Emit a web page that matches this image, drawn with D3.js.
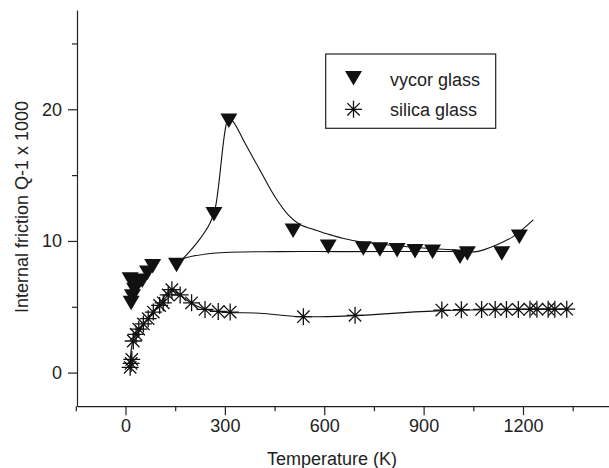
<!DOCTYPE html>
<html lang="en">
<head>
<meta charset="UTF-8">
<title>Internal friction vs temperature</title>
<script src="https://cdnjs.cloudflare.com/ajax/libs/d3/7.8.5/d3.min.js"></script>
<style>
  body { margin: 0; background: #fff; }
  svg text { font-family: "Liberation Sans", Arial, sans-serif; fill: #222; }
</style>
</head>
<body>
<svg width="609" height="468"></svg>
<script>
// measured points
const vycorT = [14, 17, 21, 27.5, 35, 50.7, 66.4, 82, 154, 267, 312, 506, 612, 718, 768, 820, 874, 927, 1010, 1032, 1136, 1189]
const vycorQ = [7.1, 5.3, 5.8, 6.3, 6.8, 7.0, 7.6, 8.1, 8.2, 12.05, 19.15, 10.8, 9.57, 9.44, 9.37, 9.32, 9.24, 9.19, 8.81, 9.07, 9.07, 10.33]

const silicaT = [14, 17, 19, 23.5, 32, 40, 54, 68.5, 84, 103, 114, 129, 140, 165, 199.5, 240, 280, 316, 537, 693, 955, 1014, 1075, 1116, 1150, 1186, 1221, 1242, 1276, 1296, 1332]
const silicaQ = [0.4, 0.7, 1.0, 2.4, 2.9, 3.3, 3.7, 4.1, 4.6, 5.1, 5.3, 5.9, 6.3, 5.9, 5.3, 4.8, 4.65, 4.6, 4.25, 4.35, 4.75, 4.78, 4.8, 4.8, 4.8, 4.8, 4.82, 4.82, 4.82, 4.82, 4.82]

// guide curves drawn over the data
const vycorBaseT = [155, 165, 264, 466, 648, 1000, 1060, 1120, 1170, 1231]
const vycorBaseQ = [8.2, 8.56, 9.07, 9.19, 9.19, 9.2, 9.19, 9.7, 10.33, 11.6]
const vycorPeakT = [165, 215, 255, 271, 305, 313, 325, 361, 411, 451, 492, 527, 572, 619, 686, 829, 1000]
const vycorPeakQ = [8.43, 9.83, 11.34, 12.5, 18.94, 19.3, 19.06, 17.42, 15.14, 13.36, 11.97, 11.25, 10.84, 10.46, 10.04, 9.62, 9.3]
const silicaFitT = [14, 23.5, 53, 83, 110, 134, 165, 199, 240, 280, 321, 406, 527, 693, 955, 1332]
const silicaFitQ = [0.58, 2.48, 3.6, 4.6, 5.5, 6.28, 5.9, 5.27, 4.81, 4.63, 4.56, 4.51, 4.25, 4.33, 4.71, 4.81]

const xMajor = [0, 300, 600, 900, 1200]
const xMinor = [-150, 150, 450, 750, 1050, 1350]
const yMajor = [0, 10, 20]
const yMinor = [5, 15, 25]

const seriesNames = ["vycor glass", "silica glass"]

const svg = d3.select("svg")

const x = d3.scaleLinear().domain([0, 1200]).range([125.5, 523])
x.domain([x.invert(77), x.invert(609)]).range([77, 609])
const y = d3.scaleLinear().domain([-2.55, 27.54]).range([406.2, 10])

const pairs = (a, b) => a.map((v, i) => [v, b[i]])

// axes
const xAxisG = svg.append("g").attr("transform", "translate(0,406.2)")
xAxisG.call(d3.axisBottom(x).tickValues(xMajor).tickFormat(d3.format("d")).tickSize(9).tickSizeOuter(0).tickPadding(4))
xAxisG.append("g").call(d3.axisBottom(x).tickValues(xMinor).tickSize(5).tickFormat(""))
  .select(".domain").remove()

const yAxisG = svg.append("g").attr("transform", "translate(77,0)")
yAxisG.call(d3.axisLeft(y).tickValues(yMajor).tickSize(9).tickSizeOuter(0).tickPadding(6))
yAxisG.append("g").call(d3.axisLeft(y).tickValues(yMinor).tickSize(5).tickFormat(""))
  .select(".domain").remove()

svg.selectAll(".domain, .tick line").attr("stroke", "#222").attr("stroke-width", 1.2)
svg.selectAll(".tick text").style("font-size", "18px").attr("fill", "#222")

svg.append("text")
  .attr("x", 332)
  .attr("y", 465)
  .attr("text-anchor", "middle")
  .style("font-size", "18px")
  .text("Temperature (K)")

svg.append("text")
  .attr("transform", "translate(28,207) rotate(-90)")
  .attr("text-anchor", "middle")
  .style("font-size", "18px")
  .text("Internal friction Q-1 x 1000")

// curves
const line = d3.line()
  .x(d => x(d[0]))
  .y(d => y(d[1]))
  .curve(d3.curveCatmullRom.alpha(0.5))

const curves = [pairs(vycorBaseT, vycorBaseQ), pairs(vycorPeakT, vycorPeakQ), pairs(silicaFitT, silicaFitQ)]
svg.append("g")
  .selectAll("path")
  .data(curves)
  .enter()
  .append("path")
  .attr("d", line)
  .attr("fill", "none")
  .attr("stroke", "#111")
  .attr("stroke-width", 1.1)

// markers
const triPath = "M-8.5,-7 L8.5,-7 L0,7.5 Z"
const starPath = "M0,-8.5 L0,8.5 M-8.5,0 L8.5,0 M-6.2,-6.2 L6.2,6.2 M-6.2,6.2 L6.2,-6.2"

svg.append("g")
  .selectAll("path")
  .data(pairs(silicaT, silicaQ))
  .enter()
  .append("path")
  .attr("transform", d => `translate(${x(d[0])},${y(d[1])})`)
  .attr("d", starPath)
  .attr("fill", "none")
  .attr("stroke", "#111")
  .attr("stroke-width", 1.3)

svg.append("g")
  .selectAll("path")
  .data(pairs(vycorT, vycorQ))
  .enter()
  .append("path")
  .attr("transform", d => `translate(${x(d[0])},${y(d[1])})`)
  .attr("d", triPath)
  .attr("fill", "#111")

// legend
const legend = svg.append("g")
legend.append("rect")
  .attr("x", 325.7).attr("y", 54)
  .attr("width", 170).attr("height", 74.3)
  .attr("fill", "#fff")
  .attr("stroke", "#222")
  .attr("stroke-width", 1.2)

legend.append("path")
  .attr("transform", "translate(353.5,78)")
  .attr("d", triPath)
  .attr("fill", "#111")

legend.append("path")
  .attr("transform", "translate(353.5,109.3)")
  .attr("d", starPath)
  .attr("fill", "none")
  .attr("stroke", "#111")
  .attr("stroke-width", 1.3)

legend.selectAll("text.lab")
  .data(seriesNames)
  .enter()
  .append("text")
  .attr("class", "lab")
  .attr("x", 390)
  .attr("y", (d, i) => 85.5 + i * 30.5)
  .style("font-size", "18px")
  .text(d => d)
</script>
</body>
</html>
